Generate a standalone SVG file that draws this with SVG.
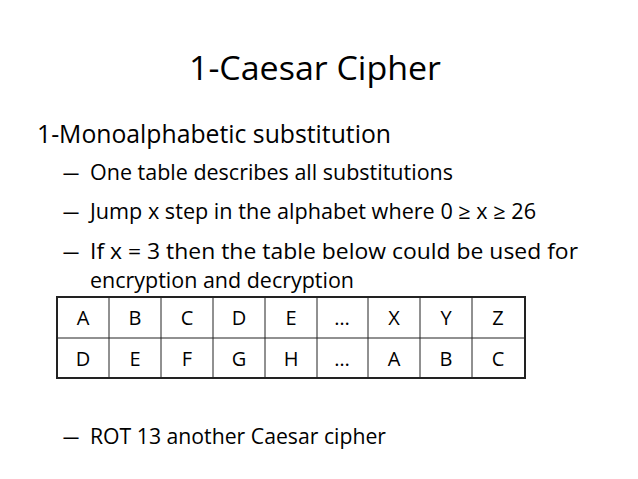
<svg xmlns="http://www.w3.org/2000/svg" width="638" height="479" viewBox="0 0 638 479">
<style>
text{font-family:"Open Sans","Liberation Sans",sans-serif;fill:#000}
.s{font-size:21px}
.c{font-family:"Liberation Sans",sans-serif;font-size:20px;fill:#777;text-anchor:middle}
.g{stroke:#222;fill:none}
</style>
<rect width="638" height="479" fill="#fff"/>
<g id="title"><text x="189" y="80" font-size="33" textLength="252" lengthAdjust="spacingAndGlyphs">1-Caesar Cipher</text></g>
<g id="body">
<text x="37" y="143" font-size="25" textLength="354" lengthAdjust="spacingAndGlyphs">1-Monoalphabetic substitution</text>
<text class="s" x="62" y="180" textLength="18" lengthAdjust="spacingAndGlyphs">–</text><text class="s" x="90" y="180" textLength="363" lengthAdjust="spacingAndGlyphs">One table describes all substitutions</text>
<text class="s" x="62" y="219" textLength="18" lengthAdjust="spacingAndGlyphs">–</text><text class="s" x="90" y="219" textLength="446" lengthAdjust="spacingAndGlyphs">Jump x step in the alphabet where 0 ≥ x ≥ 26</text>
<text class="s" x="62" y="259" textLength="18" lengthAdjust="spacingAndGlyphs">–</text><text class="s" x="90" y="259" textLength="488" lengthAdjust="spacingAndGlyphs">If x = 3 then the table below could be used for</text>
<text class="s" x="90" y="288" textLength="264" lengthAdjust="spacingAndGlyphs">encryption and decryption</text>
<text class="s" x="62" y="444" textLength="18" lengthAdjust="spacingAndGlyphs">–</text><text class="s" x="90" y="444" textLength="296" lengthAdjust="spacingAndGlyphs">ROT 13 another Caesar cipher</text>
</g>
<g id="table">
<rect class="g" x="57" y="297" width="468" height="81" stroke-width="2"/>
<path class="g" d="M57 338H525M109 297V378M161 297V378M213 297V378M265 297V378M317 297V378M368 297V378M420 297V378M472 297V378" stroke-width="1"/>
<g class="c">
<text x="83" y="325">A</text><text x="135" y="325">B</text><text x="187" y="325">C</text><text x="239" y="325">D</text><text x="291" y="325">E</text><text x="342" y="325">…</text><text x="394" y="325">X</text><text x="446" y="325">Y</text><text x="498" y="325">Z</text>
<text x="83" y="366">D</text><text x="135" y="366">E</text><text x="187" y="366">F</text><text x="239" y="366">G</text><text x="291" y="366">H</text><text x="342" y="366">…</text><text x="394" y="366">A</text><text x="446" y="366">B</text><text x="498" y="366">C</text>
</g>
</g>
</svg>
